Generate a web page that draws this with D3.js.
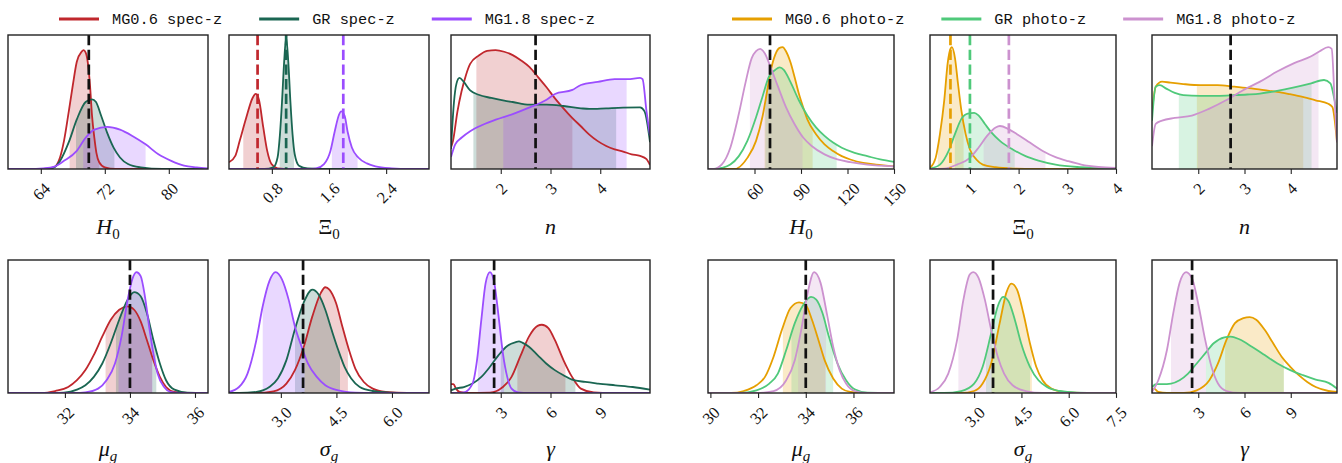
<!DOCTYPE html>
<html>
<head>
<meta charset="utf-8">
<script src="https://cdn.jsdelivr.net/npm/d3@7"></script>
<style>
  body { margin: 0; background: #fff; }
  svg { display: block; }
</style>
</head>
<body>
<svg id="fig" width="1342" height="463"></svg>
<script>
// ---------------- posterior curves (x value, relative density) ----------------
// spec-z runs
const specH0_MG06 = [[59.9,0],[64.3,0],[65.6,0.012],[66.4,0.086],[66.9,0.21],[67.5,0.43],[68.0,0.625],[68.5,0.80],[69.1,0.875],[69.35,0.887],[69.6,0.87],[69.9,0.784],[70.15,0.625],[70.4,0.40],[70.7,0.23],[70.95,0.12],[71.3,0.05],[72.0,0.012],[73.3,0],[84.9,0]];
const specH0_GR   = [[59.9,0],[64.5,0],[65.6,0.01],[66.4,0.06],[67.5,0.2],[68.5,0.37],[69.6,0.5],[70.4,0.52],[70.9,0.5],[71.5,0.405],[72.3,0.27],[73.1,0.16],[73.9,0.086],[74.9,0.037],[76.5,0.012],[79.2,0],[84.9,0]];
const specH0_MG18 = [[59.9,0],[62.5,0],[64.3,0.005],[65.6,0.015],[66.9,0.061],[68.5,0.135],[69.6,0.233],[70.7,0.294],[72.3,0.314],[73.9,0.294],[75.5,0.245],[77.1,0.184],[78.7,0.11],[80.3,0.061],[81.9,0.025],[83.5,0.012],[84.9,0.005]];

const specXi_MG06 = [[0.2,0.05],[0.29,0.1],[0.35,0.21],[0.44,0.38],[0.53,0.53],[0.575,0.56],[0.62,0.515],[0.68,0.31],[0.735,0.135],[0.795,0.037],[0.88,0.005],[1.06,0],[3.0,0]];
const specXi_GR   = [[0.2,0],[0.7,0],[0.82,0.012],[0.88,0.086],[0.913,0.257],[0.942,0.5],[0.972,0.8],[1.0,0.98],[1.03,0.8],[1.06,0.5],[1.09,0.257],[1.12,0.11],[1.18,0.025],[1.3,0.005],[1.65,0],[3.0,0]];
const specXi_MG18 = [[0.2,0],[1.3,0],[1.42,0.005],[1.53,0.037],[1.62,0.135],[1.68,0.28],[1.74,0.405],[1.77,0.43],[1.82,0.395],[1.86,0.28],[1.92,0.16],[2.01,0.086],[2.13,0.042],[2.25,0.02],[2.48,0.005],[2.72,0],[3.0,0]];

const specN_MG06 = [[1.0,0.16],[1.04,0.21],[1.13,0.43],[1.21,0.576],[1.3,0.70],[1.385,0.784],[1.556,0.846],[1.726,0.882],[1.897,0.887],[2.07,0.875],[2.24,0.85],[2.41,0.81],[2.58,0.76],[2.75,0.686],[2.92,0.61],[3.09,0.527],[3.26,0.453],[3.44,0.38],[3.61,0.319],[3.78,0.257],[3.95,0.208],[4.12,0.172],[4.29,0.147],[4.46,0.13],[4.63,0.11],[4.8,0.098],[4.93,0.074],[5.0,0.03]];
const specN_GR   = [[1.0,0.15],[1.06,0.5],[1.11,0.637],[1.17,0.68],[1.256,0.65],[1.385,0.586],[1.556,0.554],[1.81,0.53],[2.07,0.51],[2.24,0.5],[2.58,0.48],[2.92,0.48],[3.26,0.47],[3.61,0.453],[3.78,0.448],[4.12,0.453],[4.46,0.458],[4.8,0.46],[4.89,0.43],[5.0,0.2]];
const specN_MG18 = [[1.0,0.09],[1.085,0.184],[1.21,0.233],[1.385,0.282],[1.64,0.33],[1.9,0.368],[2.24,0.41],[2.58,0.46],[2.92,0.517],[3.09,0.56],[3.44,0.59],[3.61,0.627],[3.95,0.65],[4.29,0.67],[4.55,0.67],[4.8,0.68],[4.85,0.67],[4.93,0.43],[5.0,0.25]];

const specMu_MG06 = [[30.25,0],[31.3,0],[31.7,0.015],[32.1,0.045],[32.37,0.096],[32.63,0.172],[32.89,0.286],[33.15,0.425],[33.41,0.551],[33.67,0.626],[33.93,0.652],[34.13,0.626],[34.33,0.538],[34.52,0.399],[34.72,0.247],[34.92,0.121],[35.11,0.045],[35.37,0.008],[35.76,0],[36.4,0]];
const specMu_GR   = [[30.25,0],[31.6,0],[31.97,0.003],[32.37,0.025],[32.63,0.058],[32.89,0.121],[33.15,0.222],[33.41,0.374],[33.67,0.551],[33.93,0.702],[34.13,0.758],[34.33,0.727],[34.52,0.601],[34.72,0.399],[34.92,0.222],[35.11,0.096],[35.37,0.025],[35.76,0.003],[36.4,0]];
const specMu_MG18 = [[30.25,0],[32.3,0],[32.63,0.005],[33.02,0.033],[33.28,0.096],[33.54,0.222],[33.74,0.424],[33.93,0.702],[34.07,0.854],[34.2,0.909],[34.33,0.879],[34.46,0.727],[34.59,0.5],[34.72,0.298],[34.85,0.146],[35.05,0.045],[35.24,0.008],[35.5,0],[36.4,0]];

const specSigma_MG06 = [[1.6,0],[2.34,0],[2.8,0.013],[3.15,0.071],[3.38,0.172],[3.62,0.348],[3.85,0.576],[4.08,0.753],[4.2,0.795],[4.31,0.778],[4.49,0.677],[4.66,0.5],[4.84,0.323],[5.01,0.184],[5.24,0.083],[5.48,0.033],[5.83,0.008],[6.41,0],[7.0,0]];
const specSigma_GR   = [[1.6,0],[1.87,0],[2.34,0.008],[2.69,0.045],[2.92,0.109],[3.15,0.247],[3.38,0.48],[3.62,0.682],[3.85,0.778],[4.02,0.74],[4.2,0.626],[4.37,0.475],[4.55,0.323],[4.72,0.197],[4.9,0.109],[5.13,0.045],[5.48,0.015],[5.94,0.003],[6.41,0],[7.0,0]];
const specSigma_MG18 = [[1.6,0.008],[1.87,0.045],[2.1,0.146],[2.34,0.399],[2.51,0.652],[2.69,0.841],[2.86,0.909],[3.03,0.854],[3.21,0.702],[3.38,0.5],[3.56,0.348],[3.73,0.222],[3.97,0.121],[4.2,0.058],[4.55,0.02],[5.01,0.003],[5.48,0],[7.0,0]];

const specGamma_MG06 = [[0,0.066],[0.15,0.066],[0.3,0.033],[0.52,0.008],[1.04,0],[2.35,0.003],[3.13,0.045],[3.65,0.121],[4.17,0.273],[4.7,0.424],[5.22,0.505],[5.48,0.513],[5.87,0.487],[6.26,0.399],[6.78,0.248],[7.3,0.121],[7.83,0.033],[8.61,0.005],[9.65,0],[12,0]];
const specGamma_GR   = [[0,0.02],[0.26,0.033],[0.78,0.045],[1.3,0.071],[1.83,0.121],[2.35,0.197],[2.87,0.285],[3.39,0.354],[3.91,0.383],[4.1,0.388],[4.3,0.379],[4.7,0.348],[5.22,0.285],[5.74,0.222],[6.26,0.172],[6.78,0.134],[7.3,0.101],[8.09,0.083],[8.87,0.071],[9.91,0.058],[10.96,0.045],[12,0.025]];
const specGamma_MG18 = [[0,0],[0.78,0.005],[1.3,0.071],[1.57,0.247],[1.83,0.551],[2.09,0.828],[2.35,0.909],[2.61,0.828],[2.87,0.576],[3.13,0.298],[3.39,0.121],[3.65,0.033],[4.04,0.005],[4.7,0],[12,0]];

// photo-z runs
const photoH0_MG06 = [[30,0],[47,0],[55.4,0.083],[61,0.21],[65.1,0.388],[67.9,0.565],[70.6,0.74],[73.4,0.854],[76.2,0.904],[78.1,0.909],[80.3,0.879],[83.1,0.8],[85.8,0.689],[88.6,0.563],[91.4,0.46],[94.1,0.37],[99.7,0.26],[105.2,0.184],[110.7,0.134],[116.3,0.096],[121.8,0.071],[130.1,0.045],[138.4,0.033],[150,0.02]];
const photoH0_GR   = [[30,0],[33.3,0],[38.8,0.008],[44.4,0.033],[49.9,0.096],[55.4,0.21],[61,0.386],[65.1,0.538],[69.3,0.689],[73.4,0.74],[76.2,0.758],[78.9,0.74],[83.1,0.652],[88.6,0.513],[94.1,0.4],[99.7,0.311],[105.2,0.247],[110.7,0.197],[116.3,0.159],[124.6,0.121],[132.8,0.096],[141.1,0.071],[150,0.053]];
const photoH0_MG18 = [[30,0],[33.3,0],[38.8,0.033],[44.4,0.159],[49.9,0.412],[54.1,0.639],[58.2,0.828],[61,0.879],[63.7,0.896],[66.5,0.866],[70.6,0.753],[74.8,0.626],[80.3,0.462],[85.8,0.336],[91.4,0.235],[96.9,0.172],[105.2,0.109],[113.5,0.071],[121.8,0.051],[132.8,0.033],[150,0.02]];

const photoXi_MG06 = [[0.18,0.008],[0.296,0.083],[0.384,0.26],[0.472,0.51],[0.543,0.79],[0.604,0.9],[0.63,0.909],[0.692,0.83],[0.754,0.64],[0.824,0.437],[0.912,0.26],[1.0,0.146],[1.132,0.071],[1.264,0.033],[1.528,0.013],[1.88,0.003],[2.32,0],[4.0,0]];
const photoXi_GR   = [[0.18,0.003],[0.384,0.033],[0.56,0.134],[0.692,0.26],[0.824,0.374],[0.956,0.414],[1.088,0.419],[1.176,0.4],[1.308,0.336],[1.44,0.273],[1.616,0.21],[1.88,0.146],[2.143,0.096],[2.407,0.063],[2.76,0.033],[3.2,0.015],[3.64,0.008],[4.0,0.003]];
const photoXi_MG18 = [[0.18,0],[0.296,0],[0.472,0.003],[0.736,0.033],[1.0,0.083],[1.176,0.159],[1.352,0.247],[1.528,0.31],[1.616,0.321],[1.792,0.298],[1.967,0.26],[2.231,0.197],[2.495,0.134],[2.759,0.088],[3.023,0.058],[3.287,0.033],[3.639,0.015],[4.0,0.008]];

const photoN_MG06 = [[1.0,0.43],[1.08,0.614],[1.217,0.652],[1.4,0.644],[1.677,0.634],[2.046,0.626],[2.415,0.626],[2.783,0.614],[3.152,0.601],[3.429,0.588],[3.705,0.576],[3.982,0.558],[4.258,0.538],[4.535,0.513],[4.811,0.487],[4.9,0.462],[5.0,0.2]];
const photoN_GR   = [[1.0,0.36],[1.08,0.614],[1.17,0.626],[1.309,0.6],[1.493,0.568],[1.677,0.551],[2.046,0.546],[2.415,0.546],[2.783,0.551],[3.06,0.556],[3.336,0.563],[3.705,0.583],[4.074,0.609],[4.442,0.639],[4.719,0.664],[4.857,0.639],[4.949,0.51],[5.0,0.42]];
const photoN_MG18 = [[1.0,0.17],[1.08,0.336],[1.217,0.361],[1.493,0.381],[1.862,0.399],[2.23,0.449],[2.6,0.513],[2.968,0.588],[3.336,0.652],[3.705,0.727],[4.074,0.79],[4.442,0.841],[4.627,0.879],[4.811,0.909],[4.885,0.896],[4.949,0.51],[5.0,0.2]];

const photoMu_MG06 = [[29.9,0],[30.86,0],[31.4,0.015],[31.93,0.058],[32.29,0.121],[32.65,0.273],[33.0,0.475],[33.36,0.639],[33.72,0.682],[33.99,0.664],[34.26,0.551],[34.53,0.399],[34.79,0.247],[35.15,0.109],[35.51,0.033],[35.87,0.008],[36.4,0],[37.7,0]];
const photoMu_GR   = [[29.9,0],[31.22,0],[31.93,0.02],[32.47,0.071],[32.83,0.146],[33.18,0.323],[33.54,0.525],[33.9,0.664],[34.22,0.722],[34.44,0.702],[34.7,0.601],[34.97,0.424],[35.33,0.222],[35.69,0.096],[36.05,0.028],[36.58,0.003],[37.7,0]];
const photoMu_MG18 = [[29.9,0],[31.93,0],[32.65,0.015],[33.18,0.096],[33.54,0.247],[33.81,0.475],[34.08,0.753],[34.35,0.909],[34.62,0.828],[34.88,0.601],[35.15,0.348],[35.42,0.172],[35.69,0.071],[36.05,0.015],[36.58,0],[37.7,0]];

const photoSigma_MG06 = [[1.6,0],[2.59,0],[3.0,0.015],[3.27,0.071],[3.54,0.222],[3.81,0.525],[4.02,0.753],[4.18,0.823],[4.36,0.778],[4.56,0.601],[4.77,0.374],[4.97,0.197],[5.17,0.096],[5.45,0.033],[5.85,0.008],[6.4,0],[7.5,0]];
const photoSigma_GR   = [[1.6,0],[2.05,0],[2.59,0.015],[3.0,0.071],[3.27,0.197],[3.54,0.449],[3.75,0.652],[3.92,0.722],[4.09,0.69],[4.29,0.551],[4.49,0.374],[4.77,0.197],[5.04,0.096],[5.31,0.045],[5.72,0.015],[6.26,0.003],[6.94,0],[7.5,0]];
const photoSigma_MG18 = [[1.6,0.005],[1.91,0.045],[2.18,0.146],[2.46,0.399],[2.66,0.702],[2.86,0.891],[2.97,0.909],[3.14,0.866],[3.34,0.702],[3.54,0.475],[3.75,0.273],[3.95,0.146],[4.22,0.058],[4.63,0.015],[5.17,0],[7.5,0]];

const photoGamma_MG06 = [[0,0.025],[0.14,0.033],[0.41,0.008],[0.97,0],[2.07,0],[2.9,0.02],[3.72,0.096],[4.28,0.222],[4.83,0.399],[5.38,0.525],[5.93,0.563],[6.34,0.571],[6.76,0.551],[7.31,0.475],[7.86,0.374],[8.41,0.273],[8.97,0.197],[9.52,0.134],[10.07,0.083],[10.62,0.045],[11.45,0.015],[12,0.008]];
const photoGamma_GR   = [[0,0.045],[0.28,0.066],[0.69,0.066],[1.24,0.071],[1.79,0.096],[2.34,0.146],[2.9,0.222],[3.45,0.298],[4.0,0.374],[4.69,0.419],[5.1,0.424],[5.66,0.404],[6.48,0.348],[7.31,0.285],[8.14,0.222],[8.97,0.172],[9.79,0.134],[10.62,0.101],[11.45,0.076],[12,0.033]];
const photoGamma_MG18 = [[0,0.008],[0.41,0.096],[0.97,0.323],[1.38,0.601],[1.79,0.828],[2.21,0.909],[2.62,0.854],[3.03,0.652],[3.45,0.399],[3.86,0.197],[4.28,0.071],[4.83,0.015],[5.66,0],[12,0]];

// ---------------- credible intervals (order: MG0.6, GR, MG1.8) ----------------
const ciSpecH0     = [[67.6,71.3],[68.4,73.2],[69.3,77.1]];
const ciSpecXi     = [[0.40,0.82],[0.91,1.11],[1.64,2.0]];
const ciSpecN      = [[1.51,3.44],[1.45,4.32],[2.05,4.53]];
const ciSpecMu     = [[33.25,34.68],[33.57,34.81],[33.65,34.69]];
const ciSpecSigma  = [[3.64,4.81],[3.38,4.6],[2.51,3.64]];
const ciSpecGamma  = [[4.0,6.9],[3.0,7.5],[1.62,3.2]];
const ciPhotoH0    = [[66.5,97.5],[67,113],[57,91]];
const ciPhotoXi    = [[0.34,0.87],[0.69,1.92],[1.28,2.55]];
const ciPhotoN     = [[1.97,4.27],[1.58,4.45],[1.99,4.6]];
const ciPhotoMu    = [[33.04,34.82],[33.4,35.15],[33.68,34.85]];
const ciPhotoSigma = [[3.55,4.83],[3.38,4.77],[2.5,3.57]];
const ciPhotoGamma = [[4.74,8.55],[3.5,8.55],[1.24,3.5]];

// ---------------- injected values ----------------
const truthH0 = 70;
const truthXi0 = [0.6, 1.0, 1.8];
const truthN = 2.7;
const truthMu = 34;
const truthSigma = 3.6;
const truthGamma = 2.6;

// ---------------- axis ranges and ticks ----------------
const rangeSpecH0 = [59.9, 84.9],  ticksSpecH0 = [64, 72, 80];
const rangeSpecXi = [0.2, 3.0],    ticksSpecXi = [0.8, 1.6, 2.4];
const rangeN = [1.0, 5.0],         ticksN = [2, 3, 4];
const rangeSpecMu = [30.25, 36.4], ticksSpecMu = [32, 34, 36];
const rangeSpecSigma = [1.6, 7.0], ticksSpecSigma = [3.0, 4.5, 6.0];
const rangeGamma = [0, 12],        ticksGamma = [3, 6, 9];
const rangePhotoH0 = [30, 150],    ticksPhotoH0 = [60, 90, 120, 150];
const rangePhotoXi = [0.18, 4.0],  ticksPhotoXi = [1, 2, 3, 4];
const rangePhotoMu = [29.9, 37.7], ticksPhotoMu = [30, 32, 34, 36];
const rangePhotoSigma = [1.6, 7.5], ticksPhotoSigma = [3.0, 4.5, 6.0, 7.5];

// ---------------- legend ----------------
const specLabels  = ["MG0.6 spec-z", "GR spec-z", "MG1.8 spec-z"];
const photoLabels = ["MG0.6 photo-z", "GR photo-z", "MG1.8 photo-z"];
const specColors  = ["#c0272d", "#1a6652", "#9b4dff"];
const photoColors = ["#e69f00", "#4fc97a", "#cc92cf"];

// ---------------- figure ----------------
const svg = d3.select("#fig");
const defs = svg.append("defs");
const rows = [{ top: 35, bottom: 169 }, { top: 260, bottom: 393 }];
const specCols = [[8, 208], [229, 429], [451, 650]];
const photoCols = [[708, 894], [930, 1116], [1152, 1337]];
const serif = "'Liberation Serif', 'DejaVu Serif', serif";
const mono = "'Liberation Mono', 'DejaVu Sans Mono', monospace";
const tickFont = 16.5;

const panels = [
  { col: specCols[0], row: rows[0], range: rangeSpecH0, ticks: ticksSpecH0, fmt: "d", curves: [specH0_MG06, specH0_GR, specH0_MG18], ci: ciSpecH0, colors: specColors, truth: [truthH0], label: ["H", "0", true] },
  { col: specCols[1], row: rows[0], range: rangeSpecXi, ticks: ticksSpecXi, fmt: ".1f", curves: [specXi_MG06, specXi_GR, specXi_MG18], ci: ciSpecXi, colors: specColors, truth: truthXi0, truthColored: true, label: ["\u039E", "0", false] },
  { col: specCols[2], row: rows[0], range: rangeN, ticks: ticksN, fmt: "d", curves: [specN_MG06, specN_GR, specN_MG18], ci: ciSpecN, colors: specColors, truth: [truthN], label: ["n", "", true] },
  { col: specCols[0], row: rows[1], range: rangeSpecMu, ticks: ticksSpecMu, fmt: "d", curves: [specMu_MG06, specMu_GR, specMu_MG18], ci: ciSpecMu, colors: specColors, truth: [truthMu], label: ["\u03BC", "g", true] },
  { col: specCols[1], row: rows[1], range: rangeSpecSigma, ticks: ticksSpecSigma, fmt: ".1f", curves: [specSigma_MG06, specSigma_GR, specSigma_MG18], ci: ciSpecSigma, colors: specColors, truth: [truthSigma], label: ["\u03C3", "g", true] },
  { col: specCols[2], row: rows[1], range: rangeGamma, ticks: ticksGamma, fmt: "d", curves: [specGamma_MG06, specGamma_GR, specGamma_MG18], ci: ciSpecGamma, colors: specColors, truth: [truthGamma], label: ["\u03B3", "", true] },
  { col: photoCols[0], row: rows[0], range: rangePhotoH0, ticks: ticksPhotoH0, fmt: "d", curves: [photoH0_MG06, photoH0_GR, photoH0_MG18], ci: ciPhotoH0, colors: photoColors, truth: [truthH0], label: ["H", "0", true] },
  { col: photoCols[1], row: rows[0], range: rangePhotoXi, ticks: ticksPhotoXi, fmt: "d", curves: [photoXi_MG06, photoXi_GR, photoXi_MG18], ci: ciPhotoXi, colors: photoColors, truth: truthXi0, truthColored: true, label: ["\u039E", "0", false] },
  { col: photoCols[2], row: rows[0], range: rangeN, ticks: ticksN, fmt: "d", curves: [photoN_MG06, photoN_GR, photoN_MG18], ci: ciPhotoN, colors: photoColors, truth: [truthN], label: ["n", "", true] },
  { col: photoCols[0], row: rows[1], range: rangePhotoMu, ticks: ticksPhotoMu, fmt: "d", curves: [photoMu_MG06, photoMu_GR, photoMu_MG18], ci: ciPhotoMu, colors: photoColors, truth: [truthMu], label: ["\u03BC", "g", true] },
  { col: photoCols[1], row: rows[1], range: rangePhotoSigma, ticks: ticksPhotoSigma, fmt: ".1f", curves: [photoSigma_MG06, photoSigma_GR, photoSigma_MG18], ci: ciPhotoSigma, colors: photoColors, truth: [truthSigma], label: ["\u03C3", "g", true] },
  { col: photoCols[2], row: rows[1], range: rangeGamma, ticks: ticksGamma, fmt: "d", curves: [photoGamma_MG06, photoGamma_GR, photoGamma_MG18], ci: ciPhotoGamma, colors: photoColors, truth: [truthGamma], label: ["\u03B3", "", true] }
];

panels.forEach((p, pi) => {
  const [x0, x1] = p.col;
  const { top, bottom } = p.row;
  const x = d3.scaleLinear().domain(p.range).range([x0, x1]);
  const y = d3.scaleLinear().domain([0, 1]).range([bottom, top]);
  const g = svg.append("g");

  const clipId = "box" + pi;
  defs.append("clipPath").attr("id", clipId)
    .append("rect").attr("x", x0).attr("y", top).attr("width", x1 - x0).attr("height", bottom - top);
  const body = g.append("g").attr("clip-path", `url(#${clipId})`);

  const line = d3.line().x(d => x(d[0])).y(d => y(d[1])).curve(d3.curveMonotoneX);
  const area = d3.area().x(d => x(d[0])).y0(y(0)).y1(d => y(d[1])).curve(d3.curveMonotoneX);

  // shaded credible intervals
  p.curves.forEach((c, i) => {
    const [lo, hi] = p.ci[i];
    const fid = `ci${pi}_${i}`;
    defs.append("clipPath").attr("id", fid)
      .append("rect").attr("x", x(lo)).attr("y", top).attr("width", x(hi) - x(lo)).attr("height", bottom - top);
    body.append("g").attr("clip-path", `url(#${fid})`)
      .append("path").datum(c).attr("d", area)
      .attr("fill", p.colors[i]).attr("fill-opacity", 0.22).attr("stroke", "none");
  });

  // density curves
  p.curves.forEach((c, i) => {
    body.append("path").datum(c).attr("d", line)
      .attr("fill", "none").attr("stroke", p.colors[i]).attr("stroke-width", 1.8);
  });

  // injected values
  p.truth.forEach((t, i) => {
    body.append("line")
      .attr("x1", x(t)).attr("x2", x(t)).attr("y1", top).attr("y2", bottom)
      .attr("stroke", p.truthColored ? p.colors[i] : "#111")
      .attr("stroke-width", 2.7).attr("stroke-dasharray", "10.3,4.4");
  });

  // frame
  g.append("rect").attr("x", x0).attr("y", top).attr("width", x1 - x0).attr("height", bottom - top)
    .attr("fill", "none").attr("stroke", "#222").attr("stroke-width", 1.4);

  // bottom axis with rotated labels
  const axis = d3.axisBottom(x).tickValues(p.ticks).tickSize(4.9).tickFormat(d3.format(p.fmt));
  const ax = g.append("g").attr("transform", `translate(0,${bottom})`).call(axis);
  ax.select(".domain").remove();
  ax.selectAll(".tick line").attr("stroke", "#222").attr("stroke-width", 1.1);
  ax.selectAll(".tick text")
    .attr("font-family", serif).attr("font-size", tickFont).attr("fill", "#111")
    .attr("text-anchor", "middle").attr("x", 0).attr("y", 0).attr("dy", "0.35em")
    .each(function () {
      const bb = this.getBBox();
      const ext = (bb.width + 0.7 * tickFont) / Math.SQRT2;
      d3.select(this).attr("transform", `translate(0,${12.5 + ext / 2}) rotate(-45)`);
    });

  // axis title
  const cx = (x0 + x1) / 2;
  const ty = bottom + (pi % 6 < 3 ? 65 : 63);
  const t = g.append("text").attr("x", cx).attr("y", ty)
    .attr("font-family", serif).attr("font-size", 22).attr("fill", "#111").attr("text-anchor", "middle");
  t.append("tspan").attr("font-style", p.label[2] ? "italic" : "normal").text(p.label[0]);
  if (p.label[1]) {
    t.append("tspan").attr("font-size", 15).attr("dy", 5)
      .attr("font-style", p.label[1] === "g" ? "italic" : "normal").text(p.label[1]);
  }
});

// legends
function legend(labels, colors, x0, yc) {
  const g = svg.append("g");
  let x = x0;
  labels.forEach((lab, i) => {
    g.append("line").attr("x1", x).attr("x2", x + 40).attr("y1", yc).attr("y2", yc)
      .attr("stroke", colors[i]).attr("stroke-width", 2.8);
    const t = g.append("text").attr("x", x + 53).attr("y", yc).attr("dy", "0.35em")
      .attr("font-family", mono).attr("font-size", 15.3).attr("fill", "#111").text(lab);
    x = x + 53 + t.node().getComputedTextLength() + 37;
  });
}
legend(specLabels, specColors, 59, 19);
legend(photoLabels, photoColors, 732, 19);
</script>
</body>
</html>
